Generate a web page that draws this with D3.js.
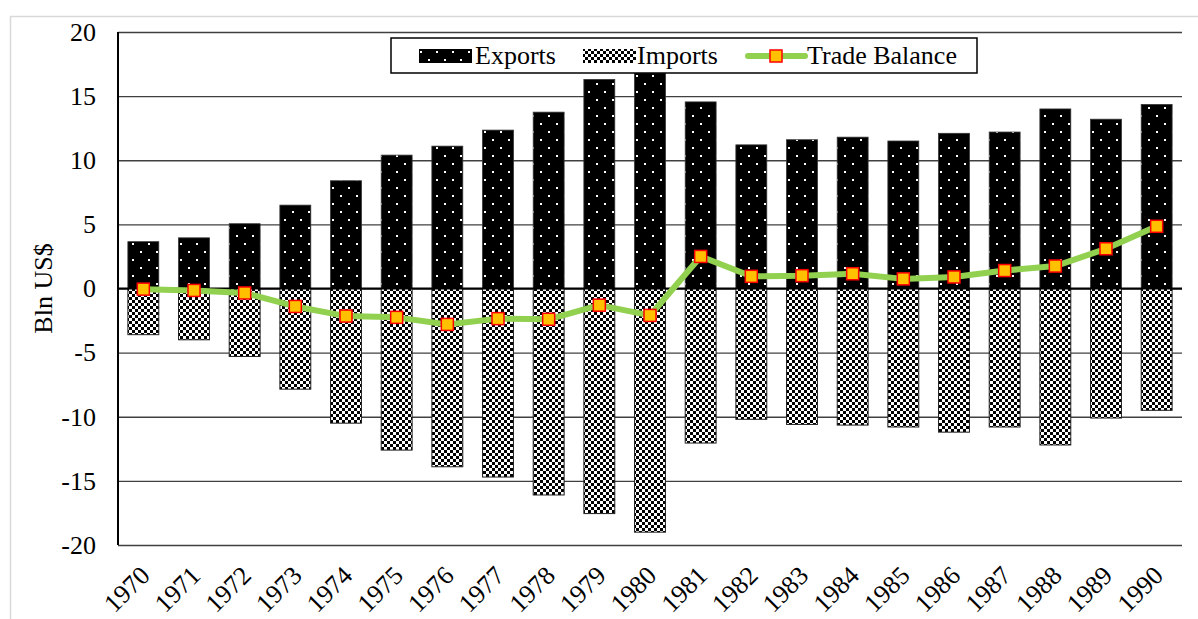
<!DOCTYPE html>
<html>
<head>
<meta charset="utf-8">
<script src="https://cdn.jsdelivr.net/npm/d3@7"></script>
<style>
  html, body { margin: 0; padding: 0; background: #fff; }
  svg { display: block; }
  svg text { font-family: "Liberation Serif", "Times New Roman", serif; }
</style>
</head>
<body>
<svg id="chart" width="1198" height="619"></svg>
<script>
// Annual trade figures, billions of US dollars
const years = ["1970","1971","1972","1973","1974","1975","1976","1977","1978","1979","1980",
               "1981","1982","1983","1984","1985","1986","1987","1988","1989","1990"];
const exportsVals = [3.65, 3.95, 5.05, 6.5, 8.4, 10.4, 11.1, 12.35, 13.75, 16.3, 16.8,
                     14.55, 11.2, 11.6, 11.8, 11.5, 12.1, 12.2, 14.0, 13.2, 14.35];
const importsVals = [-3.6, -4.0, -5.3, -7.85, -10.5, -12.6, -13.9, -14.7, -16.1, -17.55, -19.0,
                     -12.05, -10.2, -10.6, -10.65, -10.8, -11.2, -10.8, -12.2, -10.1, -9.5];
const balanceVals = [-0.05, -0.15, -0.35, -1.4, -2.15, -2.25, -2.8, -2.35, -2.4, -1.3, -2.1,
                     2.5, 0.95, 1.0, 1.15, 0.75, 0.9, 1.4, 1.75, 3.1, 4.85];
const yTicks = [-20, -15, -10, -5, 0, 5, 10, 15, 20];
const seriesNames = ["Exports", "Imports", "Trade Balance"];

const svg = d3.select("#chart");
const plotL = 118, plotR = 1182, plotT = 32, plotB = 545;
const fontSize = 26;
const serif = "'Liberation Serif', 'Times New Roman', serif";

// Fill patterns: sparse staggered white dots on black, and a black/white checkerboard
const defs = svg.append("defs");
const dots = defs.append("pattern").attr("id", "dots")
  .attr("patternUnits", "userSpaceOnUse").attr("width", 16).attr("height", 16);
dots.append("rect").attr("width", 16).attr("height", 16).attr("fill", "#000");
dots.append("rect").attr("x", 4).attr("y", 3).attr("width", 2).attr("height", 2).attr("fill", "#fff");
dots.append("rect").attr("x", 12).attr("y", 11).attr("width", 2).attr("height", 2).attr("fill", "#fff");

const checker = defs.append("pattern").attr("id", "checker")
  .attr("patternUnits", "userSpaceOnUse").attr("width", 6).attr("height", 6);
checker.append("rect").attr("width", 6).attr("height", 6).attr("fill", "#fff");
checker.append("rect").attr("width", 3).attr("height", 3).attr("fill", "#000");
checker.append("rect").attr("x", 3).attr("y", 3).attr("width", 3).attr("height", 3).attr("fill", "#000");

// Outer chart frame
svg.append("rect").attr("x", 10.5).attr("y", 16.5).attr("width", 1250).attr("height", 700)
  .attr("fill", "none").attr("stroke", "#d9d9d9").attr("stroke-width", 1.5);

const x = d3.scaleBand().domain(years).range([plotL, plotR])
  .paddingInner(0.39).paddingOuter(0.195);
const y = d3.scaleLinear().domain([-20, 20]).range([plotB, plotT]);

// Horizontal gridlines and value labels
const yAxis = d3.axisLeft(y).tickValues(yTicks).tickSize(-(plotR - plotL)).tickPadding(22)
  .tickFormat(d => String(d));
const gy = svg.append("g").attr("transform", `translate(${plotL},0)`).call(yAxis)
  .attr("font-family", serif);
gy.select(".domain").remove();
gy.selectAll(".tick line").attr("stroke", "#404040").attr("stroke-width", 1.3);
gy.selectAll(".tick text").attr("font-size", fontSize).attr("fill", "#000");

svg.append("text")
  .attr("transform", `translate(52,${y(0)}) rotate(-90)`)
  .attr("text-anchor", "middle").attr("font-size", fontSize).text("Bln US$");

// Bars
svg.append("g").selectAll("rect").data(years).join("rect")
  .attr("x", d => x(d)).attr("width", x.bandwidth())
  .attr("y", (d, i) => y(exportsVals[i]))
  .attr("height", (d, i) => y(0) - y(exportsVals[i]))
  .attr("fill", "url(#dots)").attr("stroke", "#333").attr("stroke-width", 0.8);

svg.append("g").selectAll("rect").data(years).join("rect")
  .attr("x", d => x(d)).attr("width", x.bandwidth())
  .attr("y", y(0))
  .attr("height", (d, i) => y(importsVals[i]) - y(0))
  .attr("fill", "url(#checker)").attr("stroke", "#222").attr("stroke-width", 1);

// Zero line and vertical axis line
svg.append("line").attr("x1", plotL).attr("x2", plotR).attr("y1", y(0)).attr("y2", y(0))
  .attr("stroke", "#000").attr("stroke-width", 2);
svg.append("line").attr("x1", plotL).attr("x2", plotL).attr("y1", plotT).attr("y2", plotB)
  .attr("stroke", "#000").attr("stroke-width", 2);

// Year labels, rotated
const gx = svg.append("g").attr("transform", `translate(0,${plotB})`)
  .call(d3.axisBottom(x).tickSize(0).tickPadding(0))
  .attr("font-family", serif);
gx.select(".domain").remove();
gx.selectAll(".tick text")
  .attr("font-size", fontSize).attr("fill", "#000")
  .attr("text-anchor", "end").attr("dy", null).attr("y", 0)
  .attr("transform", "translate(8,32) rotate(-45)");

// Trade balance line with square markers
const cx = d => x(d) + x.bandwidth() / 2;
const line = d3.line().x((d, i) => cx(years[i])).y(d => y(d));
svg.append("path").datum(balanceVals).attr("d", line)
  .attr("fill", "none").attr("stroke", "#92d050").attr("stroke-width", 6)
  .attr("stroke-linejoin", "round");
svg.append("g").selectAll("rect").data(balanceVals).join("rect")
  .attr("x", (d, i) => cx(years[i]) - 6).attr("y", d => y(d) - 6)
  .attr("width", 12).attr("height", 12)
  .attr("fill", "#ffc000").attr("stroke", "#ff0000").attr("stroke-width", 1.5);

// Legend
const lg = svg.append("g");
lg.append("rect").attr("x", 391).attr("y", 38).attr("width", 586).attr("height", 35)
  .attr("fill", "#fff").attr("stroke", "#000").attr("stroke-width", 1.5);
lg.append("rect").attr("x", 419).attr("y", 49).attr("width", 53).attr("height", 14)
  .attr("fill", "url(#dots)");
lg.append("text").attr("x", 475).attr("y", 64).attr("font-size", fontSize).text(seriesNames[0]);
lg.append("rect").attr("x", 583).attr("y", 49).attr("width", 53).attr("height", 14)
  .attr("fill", "url(#checker)");
lg.append("text").attr("x", 637).attr("y", 64).attr("font-size", fontSize).text(seriesNames[1]);
lg.append("line").attr("x1", 748).attr("x2", 805).attr("y1", 56).attr("y2", 56)
  .attr("stroke", "#92d050").attr("stroke-width", 6).attr("stroke-linecap", "round");
lg.append("rect").attr("x", 770).attr("y", 50).attr("width", 12).attr("height", 12)
  .attr("fill", "#ffc000").attr("stroke", "#ff0000").attr("stroke-width", 1.5);
lg.append("text").attr("x", 807).attr("y", 64).attr("font-size", fontSize).text(seriesNames[2]);
</script>
</body>
</html>
